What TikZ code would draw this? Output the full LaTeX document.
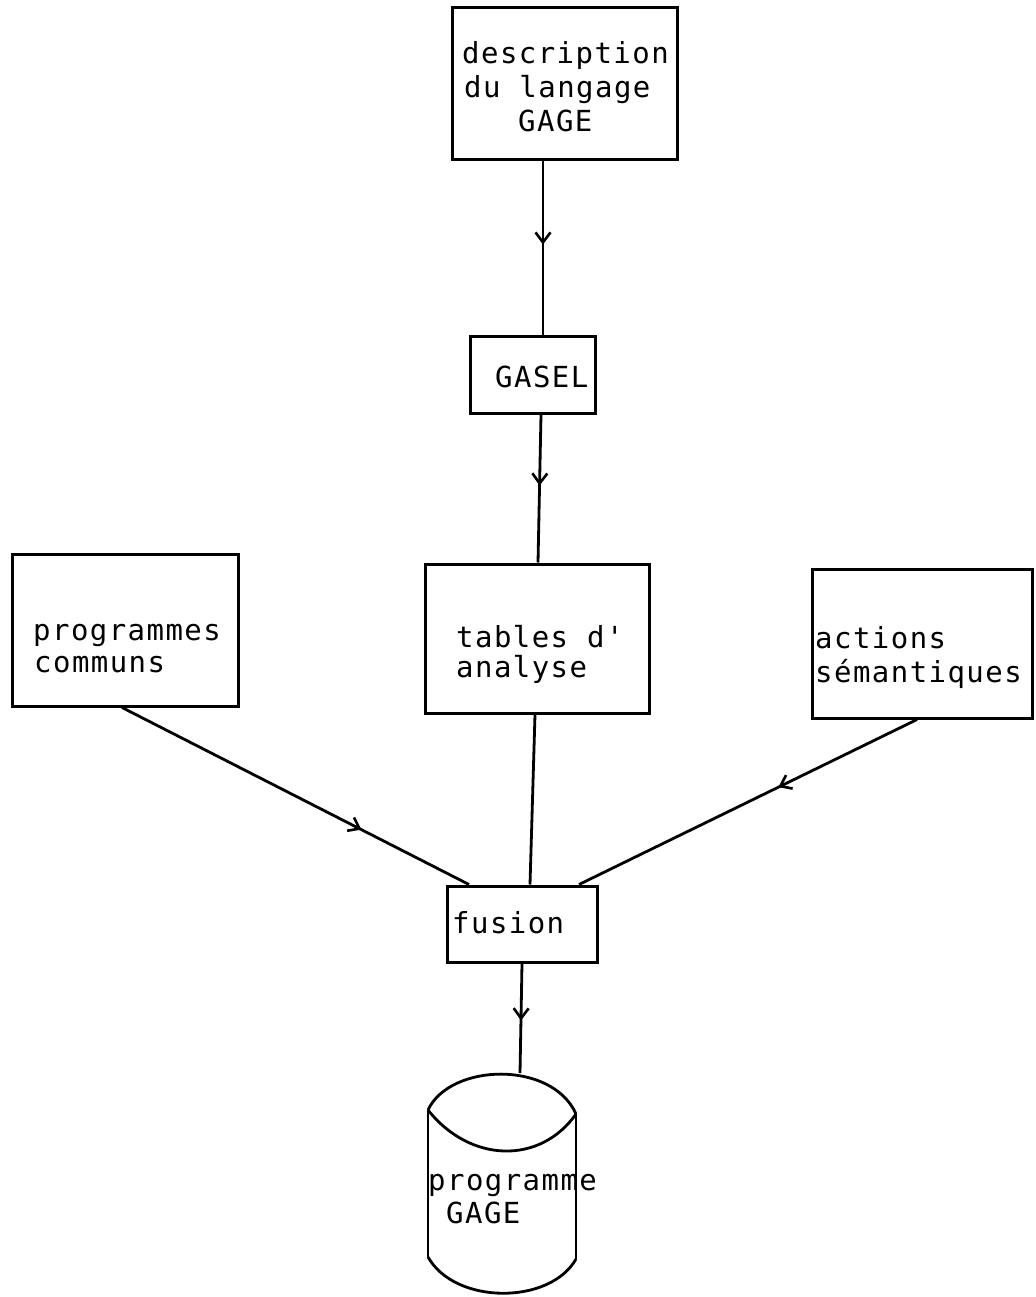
\documentclass[tikz,border=0pt]{standalone}
\usepackage{fontspec}
\newfontfamily\lbfont[LetterSpace=5]{DejaVu Sans Mono}
\usetikzlibrary{arrows.meta,decorations.markings}
\tikzset{
  box/.style={draw, line width=3pt, inner sep=0pt, rectangle},
  lbl/.style={anchor=base west, inner sep=0pt, font=\lbfont\fontsize{29}{34}\selectfont},
  flow/.style={line width=2.8pt, postaction={decorate},
    decoration={markings, mark=at position #1 with {\arrow{Straight Barb[length=10pt,width=15pt,line width=2.6pt]}}}},
  plain/.style={line width=2.8pt},
}
\begin{document}
\begin{tikzpicture}[x=1pt,y=-1pt]
\useasboundingbox (0,0) rectangle (1035,1297);
% boxes
\node[box, minimum width=225pt, minimum height=152pt] (desc) at (564.5,84) {};
\node[box, minimum width=125pt, minimum height=77pt] (gasel) at (532.5,374.5) {};
\node[box, minimum width=224pt, minimum height=149pt] (tables) at (537,638.5) {};
\node[box, minimum width=226pt, minimum height=152pt] (prog) at (125,630) {};
\node[box, minimum width=220pt, minimum height=149pt] (actions) at (922,643.5) {};
\node[box, minimum width=150pt, minimum height=76pt] (fusion) at (522,924) {};
% labels
\node[lbl] (d1) at (462,64) {description};
\node[lbl] (d2) at (464,98) {du langage};
\node[lbl] (d3) at (518,132) {GAGE};
\node[lbl] (g1) at (495,387) {GASEL};
\node[lbl] (t1) at (456,647) {tables d'};
\node[lbl] (t2) at (456,677) {analyse};
\node[lbl] (p1) at (33,640) {programmes};
\node[lbl] (p2) at (34,672) {communs};
\node[lbl] (a1) at (815,648) {actions};
\node[lbl] (a2) at (815,682) {sémantiques};
\node[lbl] (f1) at (452,933) {fusion};
\node[lbl] (c1) at (428,1190) {programme};
\node[lbl] (c2) at (446,1223) {GAGE};
% cylinder
\coordinate (cyltop) at (520,1073);
\coordinate (cl) at (428,1110);
\coordinate (cr) at (576,1114);
\coordinate (bl) at (428,1257);
\coordinate (br) at (576,1259);
\draw[plain] (cl) .. controls (450,1063) and (552,1060) .. (cr);
\draw[plain] (cl) .. controls (470,1163) and (540,1165) .. (cr);
\draw[plain] (cl) -- (bl);
\draw[plain] (cr) -- (br);
\draw[plain] (bl) .. controls (455,1305) and (550,1305) .. (br);
% connectors
\draw[flow=0.48] ([xshift=-21.5pt]desc.south) -- ([xshift=10.5pt]gasel.north);
\draw[flow=0.48] ([xshift=8.5pt]gasel.south) -- ([xshift=1pt]tables.north);
\draw[plain] ([xshift=-2pt]tables.south) -- ([xshift=8pt]fusion.north);
\draw[flow=0.69] ([xshift=-3pt]prog.south) -- ([xshift=-53pt]fusion.north);
\draw[flow=0.41] ([xshift=-5pt]actions.south) -- ([xshift=57pt]fusion.north);
\draw[flow=0.52] (fusion.south) -- (cyltop);
\end{tikzpicture}
\end{document}
